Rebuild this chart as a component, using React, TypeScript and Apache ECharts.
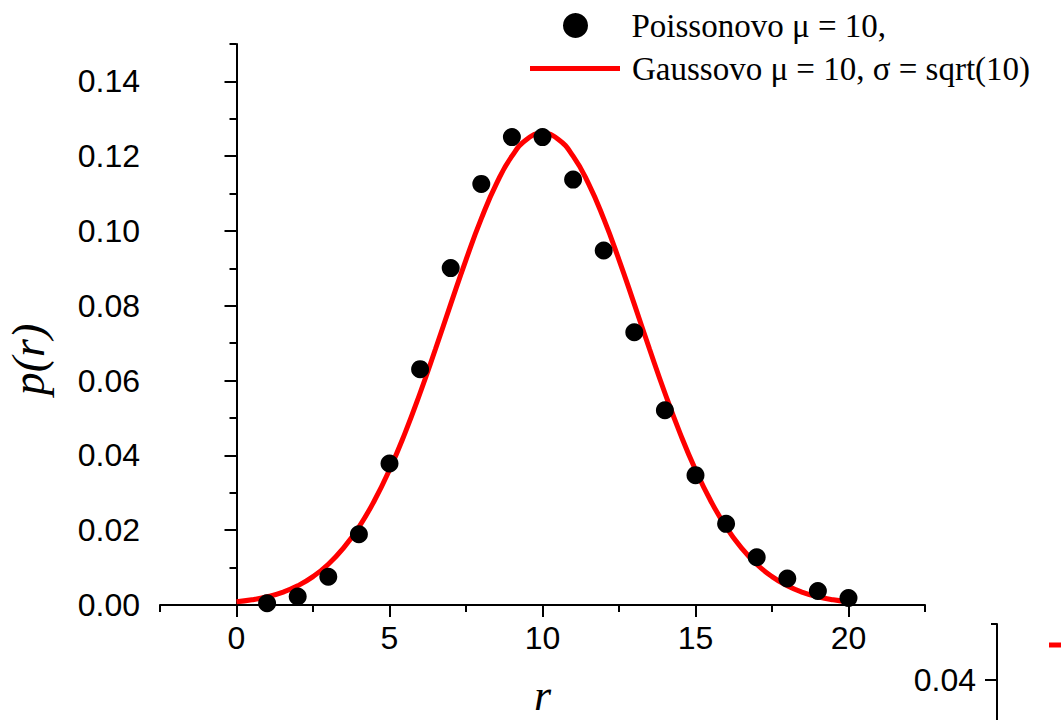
import React, { useEffect, useRef } from "react";
import * as echarts from "echarts";

// Poisson probabilities p(r) for mu = 10
const poissonR = [1, 2, 3, 4, 5, 6, 7, 8, 9, 10, 11, 12, 13, 14, 15, 16, 17, 18, 19, 20];
const poissonP = [
  0.00045, 0.00227, 0.00757, 0.01892, 0.03783, 0.06306, 0.09008, 0.1126, 0.12511, 0.12511,
  0.11374, 0.09478, 0.07291, 0.05208, 0.03472, 0.0217, 0.01276, 0.00709, 0.00373, 0.00187,
];

// Gaussian curve samples, mu = 10, sigma = sqrt(10)
const gaussX = [
  0, 0.5, 1, 1.5, 2, 2.5, 3, 3.5, 4, 4.5, 5, 5.5, 6, 6.5, 7, 7.5, 8, 8.5, 9, 9.5, 10,
  10.5, 11, 11.5, 12, 12.5, 13, 13.5, 14, 14.5, 15, 15.5, 16, 16.5, 17, 17.5, 18, 18.5, 19, 19.5, 20,
];
const gaussY = [
  0.00085, 0.00138, 0.0022, 0.0034, 0.00514, 0.00758, 0.01089, 0.01526, 0.02085, 0.0278, 0.03614,
  0.04583, 0.05669, 0.06838, 0.08044, 0.0923, 0.10329, 0.11273, 0.12, 0.12459, 0.12616,
  0.12459, 0.12, 0.11273, 0.10329, 0.0923, 0.08044, 0.06838, 0.05669, 0.04583, 0.03614,
  0.0278, 0.02085, 0.01526, 0.01089, 0.00758, 0.00514, 0.0034, 0.0022, 0.00138, 0.00085,
];

// Axis ticks
const xMajorTicks = [0, 5, 10, 15, 20];
const yMajorTicks = [0, 0.02, 0.04, 0.06, 0.08, 0.1, 0.12, 0.14];
const sideMajorTicks = [0.04];

const poissonName = "Poissonovo \u03bc = 10,";
const gaussName = "Gaussovo \u03bc = 10, \u03c3 = sqrt(10)";

const SANS = "Liberation Sans";
const SERIF = "Liberation Serif";

export default function App() {
  const ref = useRef<HTMLDivElement>(null);

  useEffect(() => {
    if (!ref.current) return;
    const chart = echarts.init(ref.current, null, { renderer: "svg" });

    const axisLine = { show: true, lineStyle: { color: "#000", width: 2 } };
    const labelStyle = { fontFamily: SANS, fontSize: 32, color: "#000" };
    const nameStyle = { fontFamily: SERIF, fontStyle: "italic", fontSize: 46, color: "#000" };

    chart.setOption({
      animation: false,
      backgroundColor: "#fff",
      grid: [
        { left: 160, right: 136, top: 44, bottom: 115, outerBoundsMode: "none" },
        { left: 997, width: 60, top: 624, height: 280, outerBoundsMode: "none" },
      ],
      legend: [
        {
          data: [poissonName],
          left: 563,
          top: 9,
          padding: 0,
          icon: "circle",
          itemWidth: 90,
          itemHeight: 25,
          selectedMode: false,
          itemStyle: { color: "#000", opacity: 1 },
          textStyle: { fontFamily: SERIF, fontSize: 33, color: "#000", padding: [0, 0, 0, 6] },
        },
        {
          data: [gaussName],
          left: 530,
          top: 52,
          padding: 0,
          icon: "rect",
          itemWidth: 90,
          itemHeight: 5,
          selectedMode: false,
          itemStyle: { color: "#ff0000" },
          textStyle: { fontFamily: SERIF, fontSize: 33, color: "#000", padding: [0, 0, 0, 7] },
        },
      ],
      xAxis: [
        {
          type: "value",
          gridIndex: 0,
          position: "bottom",
          min: -2.5,
          max: 22.5,
          interval: 2.5,
          axisLine,
          axisTick: { show: true, length: 7, lineStyle: { color: "#000", width: 2 } },
          axisLabel: { show: false },
          splitLine: { show: false },
          name: "r",
          nameLocation: "middle",
          nameGap: 73,
          nameTextStyle: { ...nameStyle, fontSize: 44, lineHeight: 34 },
        },
        {
          type: "value",
          gridIndex: 0,
          position: "bottom",
          min: -2.5,
          max: 22.5,
          interval: 2.5,
          axisLine: { show: false },
          axisTick: {
            show: true,
            length: 12,
            customValues: xMajorTicks,
            lineStyle: { color: "#000", width: 2 },
          },
          axisLabel: { ...labelStyle, margin: 17, customValues: xMajorTicks },
          splitLine: { show: false },
        },
        { type: "value", gridIndex: 1, show: false, min: 0, max: 1 },
      ],
      yAxis: [
        {
          type: "value",
          gridIndex: 0,
          position: "left",
          min: 0,
          max: 0.15,
          interval: 0.01,
          axisLine,
          axisTick: { show: true, length: 7, lineStyle: { color: "#000", width: 2 } },
          axisLabel: { show: false },
          splitLine: { show: false },
          name: "p(r)",
          nameLocation: "middle",
          nameRotate: 90,
          nameGap: 109,
          nameTextStyle: { ...nameStyle, padding: [0, 70, 0, 0] },
        },
        {
          type: "value",
          gridIndex: 0,
          position: "left",
          min: 0,
          max: 0.15,
          interval: 0.01,
          axisLine: { show: false },
          axisTick: {
            show: true,
            length: 12,
            customValues: yMajorTicks,
            lineStyle: { color: "#000", width: 2 },
          },
          axisLabel: {
            ...labelStyle,
            margin: 20,
            customValues: yMajorTicks,
            formatter: (v: number) => v.toFixed(2),
          },
          splitLine: { show: false },
        },
        {
          type: "value",
          gridIndex: 1,
          position: "left",
          min: 0,
          max: 0.05,
          interval: 0.01,
          axisLine,
          axisTick: { show: true, length: 6, lineStyle: { color: "#000", width: 2 } },
          axisLabel: { show: false },
          splitLine: { show: false },
        },
        {
          type: "value",
          gridIndex: 1,
          position: "left",
          min: 0,
          max: 0.05,
          interval: 0.01,
          axisLine: { show: false },
          axisTick: {
            show: true,
            length: 12,
            customValues: sideMajorTicks,
            lineStyle: { color: "#000", width: 2 },
          },
          axisLabel: {
            ...labelStyle,
            margin: 21,
            customValues: sideMajorTicks,
            formatter: (v: number) => v.toFixed(2),
          },
          splitLine: { show: false },
        },
      ],
      graphic: [
        {
          type: "line",
          shape: { x1: 1049, y1: 645, x2: 1061, y2: 645 },
          style: { stroke: "#ff0000", lineWidth: 5 },
        },
      ],
      series: [
        {
          name: gaussName,
          type: "line",
          xAxisIndex: 0,
          yAxisIndex: 0,
          data: gaussX.map((x, i) => [x, gaussY[i]]),
          smooth: true,
          symbol: "none",
          showSymbol: false,
          lineStyle: { color: "#ff0000", width: 5 },
          itemStyle: { color: "#ff0000" },
          z: 2,
        },
        {
          name: poissonName,
          type: "scatter",
          xAxisIndex: 0,
          yAxisIndex: 0,
          data: poissonR.map((r, i) => [r, poissonP[i]]),
          symbol: "circle",
          symbolSize: 18,
          itemStyle: { color: "#000", opacity: 1 },
          z: 3,
        },
      ],
    });

    return () => chart.dispose();
  }, []);

  return (
    <div
      ref={ref}
      style={{ position: "fixed", left: 0, top: 0, width: 1061, height: 720, background: "#fff" }}
    />
  );
}
